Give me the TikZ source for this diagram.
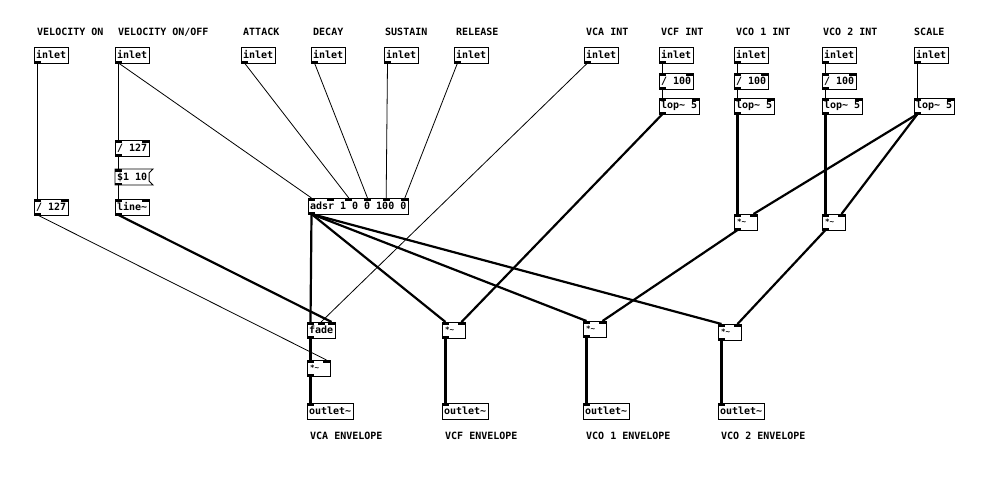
\documentclass[tikz,border=0pt]{standalone}
\usepackage{fontspec}
\setmonofont{DejaVu Sans Mono}
\usetikzlibrary{calc}
\tikzset{
  obj/.style={draw,line width=0.9pt,anchor=north west,minimum height=16pt,
    inner xsep=2pt,inner ysep=0pt,outer sep=0pt,
    font=\ttfamily\bfseries\fontsize{10}{10}\selectfont},
  mul/.style={obj,minimum width=23pt,text width=17pt,align=left,
    font=\ttfamily\bfseries\fontsize{7.5}{7.5}\selectfont},
  msgtx/.style={obj,draw=none},
  wire/.style={line width=0.8pt},
  sig/.style={line width=2.2pt},
  lbl/.style={anchor=base west,inner sep=0pt,
    font=\ttfamily\bfseries\fontsize{10}{10}\selectfont},
}
% inlet nubs, named <box>-i1, <box>-i2, ...
\newcommand{\pdin}[2]{%
  \foreach \k in {1,...,#2}{%
    \path let \p1=(#1.north west), \p2=(#1.north east),
      \n1={(\k-1)*(\x2-\x1-7pt)/max(#2-1,1)} in
      [fill=black] (\x1+\n1,\y1) rectangle ++(7pt,-2.5pt)
      (\x1+\n1+3.5pt,\y1) coordinate (#1-i\k);}}
% outlet nub, named <box>-o
\newcommand{\pdout}[1]{%
  \fill (#1.south west) rectangle ++(7pt,2.5pt);
  \coordinate (#1-o) at ($(#1.south west)+(3.5pt,0)$);}

\begin{document}
\begin{tikzpicture}[x=1pt,y=-1pt]
\fill[white] (0,0) rectangle (988,477);
\useasboundingbox (0,0) rectangle (988,477);

% comments
\node[lbl] (lvon) at (37,35.5) {VELOCITY ON};
\node[lbl] (lvoo) at (118,35.5) {VELOCITY ON/OFF};
\node[lbl] (latk) at (243,35.5) {ATTACK};
\node[lbl] (ldec) at (313,35.5) {DECAY};
\node[lbl] (lsus) at (385,35.5) {SUSTAIN};
\node[lbl] (lrel) at (456,35.5) {RELEASE};
\node[lbl] (lvca) at (586,35.5) {VCA INT};
\node[lbl] (lvcf) at (661,35.5) {VCF INT};
\node[lbl] (lvco1) at (736,35.5) {VCO 1 INT};
\node[lbl] (lvco2) at (823,35.5) {VCO 2 INT};
\node[lbl] (lscl) at (914,35.5) {SCALE};
\node[lbl] (lenvca) at (310,439) {VCA ENVELOPE};
\node[lbl] (lenvcf) at (445,439) {VCF ENVELOPE};
\node[lbl] (lenvco1) at (586,439) {VCO 1 ENVELOPE};
\node[lbl] (lenvco2) at (721,439) {VCO 2 ENVELOPE};

% inlets
\node[obj] (invon) at (34,47) {inlet};
\node[obj] (invoo) at (115,47) {inlet};
\node[obj] (inatk) at (241,47) {inlet};
\node[obj] (indec) at (311,47) {inlet};
\node[obj] (insus) at (384,47) {inlet};
\node[obj] (inrel) at (454,47) {inlet};
\node[obj] (invca) at (584,47) {inlet};
\node[obj] (invcf) at (659,47) {inlet};
\node[obj] (invco1) at (734,47) {inlet};
\node[obj] (invco2) at (822,47) {inlet};
\node[obj] (inscl) at (914,47) {inlet};

% scaling and smoothing
\node[obj] (divcf) at (659,73) {/ 100};
\node[obj] (divco1) at (734,73) {/ 100};
\node[obj] (divco2) at (822,73) {/ 100};
\node[obj] (lopcf) at (659,98) {lop\textasciitilde{} 5};
\node[obj] (lopco1) at (734,98) {lop\textasciitilde{} 5};
\node[obj] (lopco2) at (822,98) {lop\textasciitilde{} 5};
\node[obj] (lopscl) at (914,98) {lop\textasciitilde{} 5};
\node[obj] (divoo) at (115,140) {/ 127};
\node[msgtx] (setln) at (115,169) {\$1 10};
\draw[line width=0.9pt] (setln.north west) -- ($(setln.north east)+(4pt,0)$)
  -- ($(setln.north east)+(0,-4pt)$) -- ($(setln.south east)+(0,4pt)$)
  -- ($(setln.south east)+(4pt,0)$) -- (setln.south west) -- cycle;
\node[obj] (ramp) at (115,199) {line\textasciitilde};
\node[obj] (divon) at (34,199) {/ 127};
\node[obj] (adsr) at (308,198) {adsr 1 0 0 100 0};
\node[mul] (sclco1) at (734,214) {*\textasciitilde};
\node[mul] (sclco2) at (822,214) {*\textasciitilde};

% outputs
\node[obj] (fade) at (307,322) {fade};
\node[mul] (mulvca) at (307,360) {*\textasciitilde};
\node[obj] (outvca) at (307,403) {outlet\textasciitilde};
\node[mul] (mulvcf) at (442,322) {*\textasciitilde};
\node[obj] (outvcf) at (442,403) {outlet\textasciitilde};
\node[mul] (mulvco1) at (583,321) {*\textasciitilde};
\node[obj] (outvco1) at (583,403) {outlet\textasciitilde};
\node[mul] (mulvco2) at (718,324) {*\textasciitilde};
\node[obj] (outvco2) at (718,403) {outlet\textasciitilde};

% nubs
\foreach \b in {divcf,divco1,divco2,lopcf,lopco1,lopco2,lopscl,divoo,ramp,
  divon,sclco1,sclco2,mulvca,mulvcf,mulvco1,mulvco2}{\pdin{\b}{2}}
\foreach \b in {setln,outvca,outvcf,outvco1,outvco2}{\pdin{\b}{1}}
\pdin{adsr}{6}
\pdin{fade}{3}
\foreach \b in {invon,invoo,inatk,indec,insus,inrel,invca,invcf,invco1,invco2,
  inscl,divcf,divco1,divco2,lopcf,lopco1,lopco2,lopscl,divoo,setln,ramp,divon,
  adsr,sclco1,sclco2,fade,mulvca,mulvcf,mulvco1,mulvco2}{\pdout{\b}}

% control wires
\draw[wire] (invon-o) -- (divon-i1);
\draw[wire] (divon-o) -- (mulvca-i2);
\draw[wire] (invoo-o) -- (divoo-i1);
\draw[wire] (invoo-o) -- (adsr-i1);
\draw[wire] (divoo-o) -- (setln-i1);
\draw[wire] (setln-o) -- (ramp-i1);
\draw[wire] (inatk-o) -- (adsr-i3);
\draw[wire] (indec-o) -- (adsr-i4);
\draw[wire] (insus-o) -- (adsr-i5);
\draw[wire] (inrel-o) -- (adsr-i6);
\draw[wire] (invca-o) -- (fade-i2);
\foreach \c in {cf,co1,co2}{
  \draw[wire] (inv\c-o) -- (div\c-i1);
  \draw[wire] (div\c-o) -- (lop\c-i1);}
\draw[wire] (inscl-o) -- (lopscl-i1);

% signal wires
\draw[sig] (ramp-o) -- (fade-i3);
\draw[sig] (adsr-o) -- (fade-i1);
\draw[sig] (adsr-o) -- (mulvcf-i1);
\draw[sig] (adsr-o) -- (mulvco1-i1);
\draw[sig] (adsr-o) -- (mulvco2-i1);
\draw[sig] (fade-o) -- (mulvca-i1);
\draw[sig] (lopcf-o) -- (mulvcf-i2);
\draw[sig] (lopco1-o) -- (sclco1-i1);
\draw[sig] (lopco2-o) -- (sclco2-i1);
\draw[sig] (lopscl-o) -- (sclco1-i2);
\draw[sig] (lopscl-o) -- (sclco2-i2);
\draw[sig] (sclco1-o) -- (mulvco1-i2);
\draw[sig] (sclco2-o) -- (mulvco2-i2);
\foreach \c in {vca,vcf,vco1,vco2}{
  \draw[sig] (mul\c-o) -- (out\c-i1);}
\end{tikzpicture}
\end{document}
